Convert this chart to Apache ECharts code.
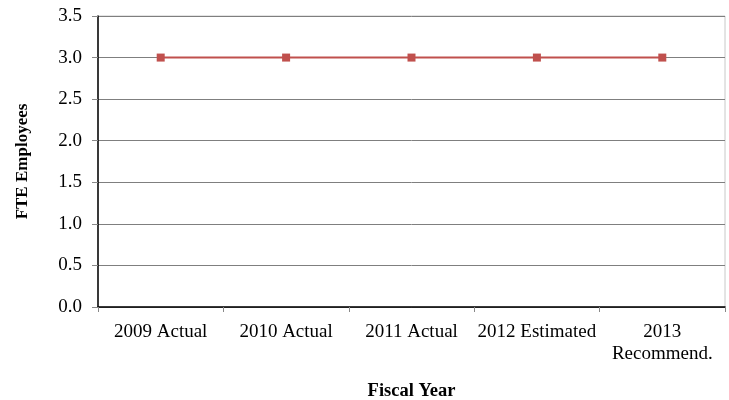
<!DOCTYPE html>
<html>
<head>
<meta charset="utf-8">
<script src="https://cdn.jsdelivr.net/npm/echarts@6/dist/echarts.min.js"></script>
<style>html,body{margin:0;padding:0;background:#fff}#c{width:729px;height:400px}</style>
</head>
<body>
<div id="c"></div>
<script>
var categories = ['2009 Actual', '2010 Actual', '2011 Actual', '2012 Estimated', '2013\nRecommend.'];
var fteValues = [3, 3, 3, 3, 3];
var yTicks = {min: 0, max: 3.5, interval: 0.5};

var font = '"Liberation Serif", "Times New Roman", serif';
var chart = echarts.init(document.getElementById('c'));
chart.setOption({
  animation: false,
  backgroundColor: '#fff',
  grid: {left: 98, right: 4, top: 16, bottom: 93, show: true, borderColor: '#c8c8c8', borderWidth: 1, containLabel: false, outerBoundsMode: 'none'},
  xAxis: {
    type: 'category',
    data: categories,
    boundaryGap: true,
    name: 'Fiscal Year',
    nameLocation: 'middle',
    nameGap: 75,
    nameTextStyle: {fontFamily: font, fontWeight: 'bold', fontSize: 18.5, color: '#000'},
    axisLine: {lineStyle: {color: '#000', width: 1.5}},
    axisTick: {show: true, length: 5, lineStyle: {color: '#888'}},
    axisLabel: {fontFamily: font, fontSize: 19, color: '#000', margin: 14, interval: 0, lineHeight: 22}
  },
  yAxis: {
    type: 'value',
    min: yTicks.min, max: yTicks.max, interval: yTicks.interval,
    name: 'FTE Employees',
    nameLocation: 'middle',
    nameGap: 67,
    nameRotate: 90,
    nameTextStyle: {fontFamily: font, fontWeight: 'bold', fontSize: 17, color: '#000'},
    axisLine: {show: true, lineStyle: {color: '#000', width: 1.5}},
    axisTick: {show: true, length: 6, lineStyle: {color: '#888'}},
    axisLabel: {fontFamily: font, fontSize: 19, color: '#000', margin: 16, formatter: function(v){return v.toFixed(1);}},
    splitLine: {lineStyle: {color: '#7f7f7f', width: 1}}
  },
  series: [{
    type: 'line',
    data: fteValues,
    symbol: 'rect',
    symbolSize: 8,
    lineStyle: {color: '#C0504D', width: 2},
    itemStyle: {color: '#C0504D'}
  }]
});
</script>
</body>
</html>
